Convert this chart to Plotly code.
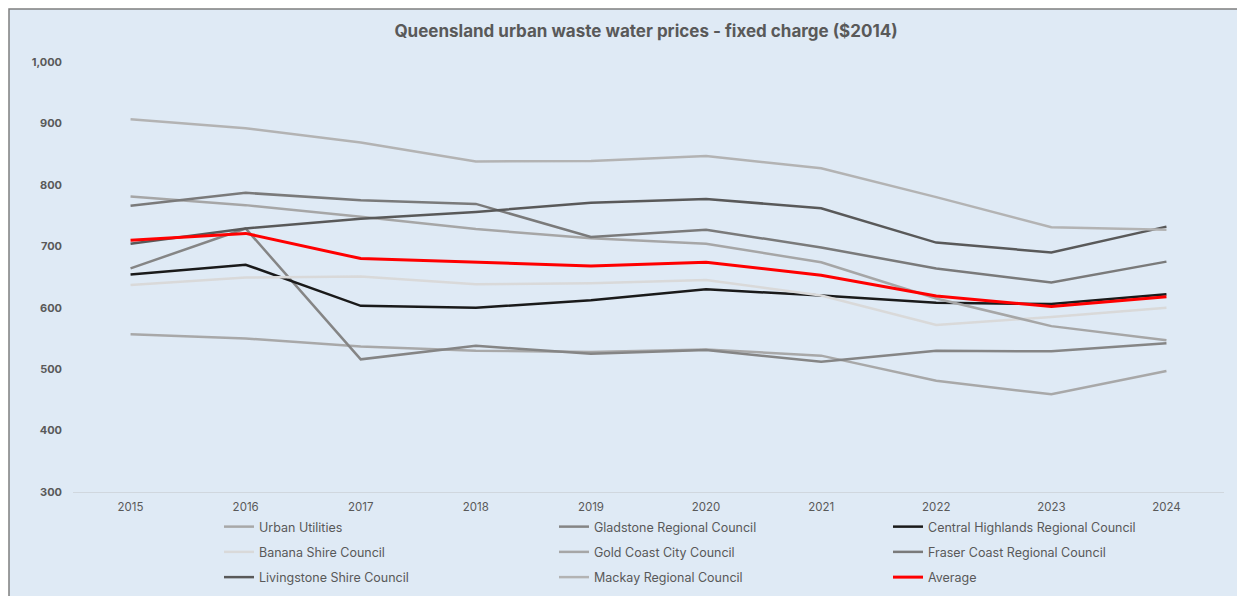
import plotly.graph_objects as go

years = ["2015", "2016", "2017", "2018", "2019", "2020", "2021", "2022", "2023", "2024"]

urban_utilities = [557, 550, 537, 530, 528, 532, 522, 481, 459, 497]
gladstone = [664, 729, 516, 538, 525, 531, 512, 530, 529, 542]
central_highlands = [654, 670, 603, 600, 612, 630, 620, 608, 606, 622]
banana = [637, 649, 651, 638, 640, 645, 620, 572, 585, 600]
gold_coast = [781, 767, 748, 728, 713, 704, 674, 615, 570, 547]
fraser_coast = [766, 787, 775, 769, 715, 727, 698, 664, 641, 675]
livingstone = [704, 729, 745, 756, 771, 777, 762, 706, 690, 732]
mackay = [907, 892, 869, 838, 839, 847, 827, 780, 731, 727]
average = [710, 721, 680, 674, 668, 674, 653, 619, 602, 618]

series_names = [
    "Urban Utilities", "Gladstone Regional Council", "Central Highlands Regional Council",
    "Banana Shire Council", "Gold Coast City Council", "Fraser Coast Regional Council",
    "Livingstone Shire Council", "Mackay Regional Council", "Average",
]
series_values = [urban_utilities, gladstone, central_highlands, banana, gold_coast,
                 fraser_coast, livingstone, mackay, average]
series_colors = ["#a8a8a8", "#858585", "#1a1a1a", "#d9d9d9", "#a6a6a6",
                 "#7a7a7a", "#595959", "#b3b3b3", "#ff0000"]
series_widths = [2.5, 2.5, 2.5, 2.5, 2.5, 2.5, 2.5, 2.5, 3]
# legend column for each series (row-major order, 3 columns)
series_legend = ["legend", "legend2", "legend3"] * 3

y_ticks = [300, 400, 500, 600, 700, 800, 900, 1000]
y_ticklabels = ["300", "400", "500", "600", "700", "800", "900", "1,000"]

W, H = 1245, 596
OFF = 8  # page body margin offset
L, R, T, B = 73 - OFF, 21 + OFF, 62 - OFF, 104 + OFF
pw, ph = W - L - R, H - T - B

def px2x(px):
    return (px - OFF - L) / pw

def py2y(py):
    return (H - B - (py - OFF)) / ph

fig = go.Figure()
for i, (name, vals, col, wd, lg) in enumerate(zip(series_names, series_values, series_colors,
                                                   series_widths, series_legend)):
    fig.add_trace(go.Scatter(x=years, y=vals, name=name, mode="lines",
                             legend=lg, legendgroup="g%d" % i,
                             line=dict(color=col, width=wd)))

fig.add_shape(type="rect", xref="paper", yref="paper",
              x0=px2x(9), x1=px2x(1243), y0=py2y(620), y1=py2y(9),
              fillcolor="#dfeaf5", line=dict(color="#7f7f7f", width=1.5), layer="below")

def legend_at(left_px, top_px):
    return dict(orientation="v", xref="container", yref="container",
                x=(left_px - OFF) / W, xanchor="left", y=1 - (top_px - OFF) / H, yanchor="top",
                bgcolor="rgba(0,0,0,0)", tracegroupgap=6,
                font=dict(size=12.5, color="#595959"), traceorder="grouped")

fig.update_layout(
    width=W, height=H,
    margin=dict(l=L, r=R, t=T, b=B, autoexpand=False),
    paper_bgcolor="white", plot_bgcolor="rgba(0,0,0,0)",
    font=dict(family="Inter, Open Sans, sans-serif", color="#595959"),
    title=dict(text="<b>Queensland urban waste water prices - fixed charge ($2014)</b>",
               x=(646 - OFF) / W, xref="container", xanchor="center",
               y=1 - (31 - OFF) / H, yref="container", yanchor="middle",
               font=dict(size=17, color="#595959", family="Inter, Open Sans, sans-serif")),
    showlegend=True,
    legend=legend_at(219, 512),
    legend2=legend_at(554, 512),
    legend3=legend_at(888, 512),
    xaxis=dict(type="category", range=[-0.5, 9.5], showgrid=False, zeroline=False,
               showline=True, linecolor="#d0d7de", linewidth=1, ticks="",
               ticklabelstandoff=4,
               tickfont=dict(size=11.5, color="#595959"), fixedrange=True),
    yaxis=dict(range=[300, 1000], tickvals=y_ticks, ticktext=y_ticklabels,
               showgrid=False, zeroline=False, showline=False, ticks="",
               ticklabelstandoff=10,
               tickfont=dict(size=11, color="#595959", family="Inter, Open Sans, sans-serif", weight="bold")),
)

fig.write_html("out.html")
